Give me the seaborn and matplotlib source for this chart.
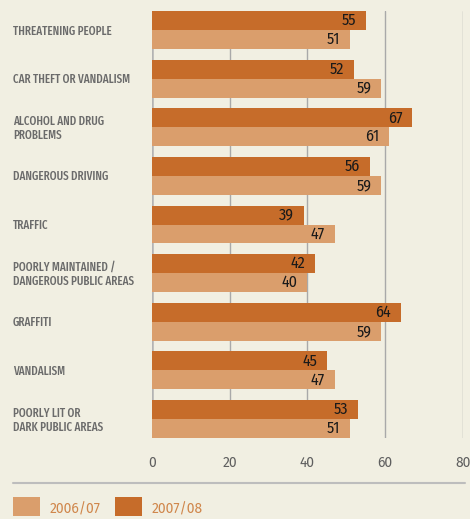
import matplotlib
matplotlib.use("Agg")
import matplotlib.pyplot as plt
import matplotlib.transforms as mtransforms
import seaborn as sns
import pandas as pd
from matplotlib.patches import Rectangle
from matplotlib.lines import Line2D

categories = [
    "THREATENING PEOPLE",
    "CAR THEFT OR VANDALISM",
    "ALCOHOL AND DRUG\nPROBLEMS",
    "DANGEROUS DRIVING",
    "TRAFFIC",
    "POORLY MAINTAINED /\nDANGEROUS PUBLIC AREAS",
    "GRAFFITI",
    "VANDALISM",
    "POORLY LIT OR\nDARK PUBLIC AREAS",
]
values_2007_08 = [55, 52, 67, 56, 39, 42, 64, 45, 53]
values_2006_07 = [51, 59, 61, 59, 47, 40, 59, 47, 51]
series = ["2007/08", "2006/07"]
legend_labels = ["2006/07", "2007/08"]
x_ticks = [0, 20, 40, 60, 80]

BG = "#f1efe2"
DARK = "#c66c2a"
LIGHT = "#da9e6c"

df = pd.DataFrame({
    "category": categories * 2,
    "value": values_2007_08 + values_2006_07,
    "series": [series[0]] * len(categories) + [series[1]] * len(categories),
})

sns.set_style("white")
plt.rcParams["font.family"] = ["Fira Sans", "DejaVu Sans"]

CAT_FONT = ["Fira Sans Extra Condensed", "PT Sans Narrow", "DejaVu Sans"]
VAL_FONT = ["Fira Sans Condensed", "DejaVu Sans"]
TICK_FONT = ["Fira Sans", "DejaVu Sans"]

fig = plt.figure(figsize=(4.70, 5.19), dpi=100, facecolor=BG)
W, H = 470, 519
ax = fig.add_axes([152.3 / W, 1 - 438 / H, (462.6 - 152.3) / W, (438 - 11) / H])
ax.set_facecolor(BG)

sns.barplot(data=df, y="category", x="value", hue="series", hue_order=series,
            order=categories, orient="h", palette=[DARK, LIGHT], width=0.78,
            saturation=1, legend=False, ax=ax, zorder=2)
for p in ax.patches:
    p.set_linewidth(0)

ax.set_xlim(0, 80)
ax.set_ylim(8.39, -0.39)
ax.set_xticks(x_ticks)
ax.set_xticklabels([str(t) for t in x_ticks], fontsize=10, color="#5f5f5f",
                   family=TICK_FONT)
ax.tick_params(axis="x", which="both", length=0, pad=13)
ax.set_yticks([])
ax.set_xlabel("")
ax.set_ylabel("")
for s in ax.spines.values():
    s.set_visible(False)

for t in x_ticks:
    ax.axvline(t, color="#a9a9a9" if t else "#b3b3b3", lw=1.0 if t else 1.8, zorder=1)

# value labels
for i, (v1, v0) in enumerate(zip(values_2007_08, values_2006_07)):
    ax.text(v1 - 2.5, i - 0.195, str(v1), ha="right", va="center", fontsize=11.5,
            color="#1a1a1a", family=VAL_FONT, zorder=3)
    ax.text(v0 - 2.5, i + 0.195, str(v0), ha="right", va="center", fontsize=11.5,
            color="#1a1a1a", family=VAL_FONT, zorder=3)

# category labels
trans = mtransforms.blended_transform_factory(fig.transFigure, ax.transData)
for i, c in enumerate(categories):
    ax.text(13 / W, i + 0.02, c, transform=trans, ha="left", va="center", fontsize=8.6,
            color="#6b6b6b", fontweight="medium", family=CAT_FONT, linespacing=1.15)

# separator line
fig.add_artist(Line2D([13 / W, 465 / W], [1 - 483 / H, 1 - 483 / H],
                      color="#bdbdbd", lw=1.5, transform=fig.transFigure))

# legend
leg_colors = [LIGHT, DARK]
leg_x = [13, 115]
for lab, col, x0 in zip(legend_labels, leg_colors, leg_x):
    fig.add_artist(Rectangle((x0 / W, 1 - 516 / H), 27 / W, 19 / H, color=col,
                             transform=fig.transFigure, lw=0))
    fig.text((x0 + 37) / W, 1 - 509 / H, lab, ha="left", va="center", fontsize=10,
             color="#d0874c", family=TICK_FONT)

fig.savefig("out.png", dpi=100, facecolor=BG)
